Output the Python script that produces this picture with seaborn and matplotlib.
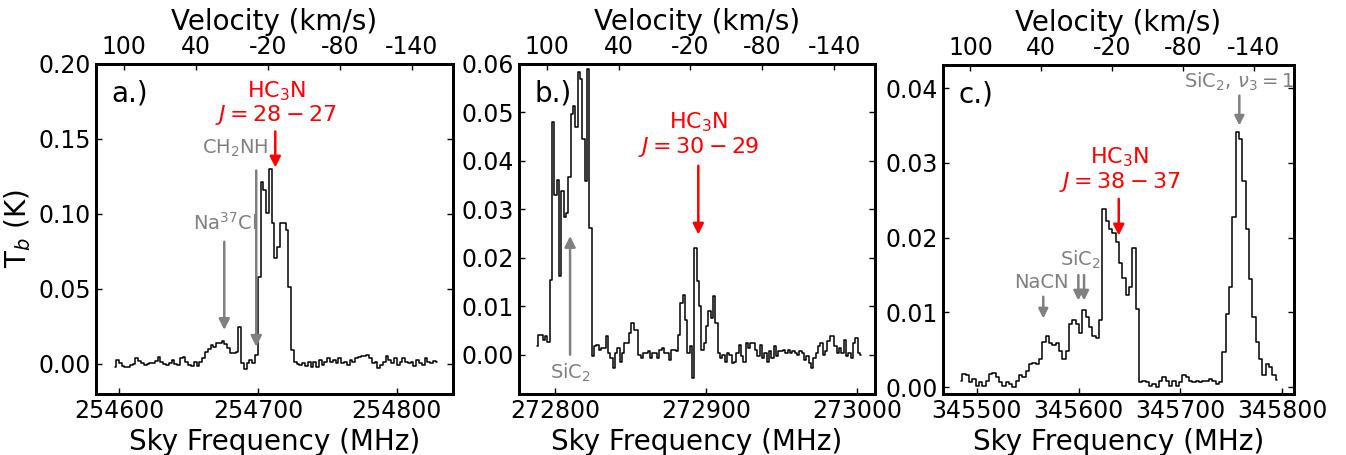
import numpy as np
import matplotlib
matplotlib.use("Agg")
import matplotlib.pyplot as plt
import seaborn as sns
from matplotlib.ticker import FormatStrFormatter

# Spectra (T_b in mK, one value per channel)
# Panel a: HC3N J=28-27, channels start at 254595.9 MHz, 2.0 MHz wide
a_start, a_width = 254595.9, 2.0
a_tb = [-1.8, 2.7, 0.4, -1.3, -2.2, -1.8, -0.7, 0.0, 3.8, 2.0, 0.4, -0.7, 0.0, 0.4, 0.9, 2.0,
        4.9, 1.6, 0.0, -0.7, 0.4, 2.7, 0.0, -0.7, 3.8, 4.9, 1.6, -0.7, -1.3, 1.6, -1.3, 1.6,
        3.8, 8.2, 9.8, 12.7, 11.1, 13.8, 14.2, 15.3, 13.3, 10.4, 7.6, 7.1, 8.2, 24.9, 0.4, -3.6,
        0.4, 2.7, 0.4, 6.0, 58.2, 121.6, 116.0, 100.4, 130.2, 93.8, 70.4, 78.2, 93.8, 93.8, 89.3, 51.6,
        9.3, 1.6, 0.0, -0.7, 0.4, -1.3, 1.6, -1.8, 1.6, -1.8, 2.7, -0.7, 1.6, 3.8, 1.6, 2.7,
        0.4, 3.8, 0.4, 1.6, -0.7, 2.7, 1.6, 3.8, 4.9, 5.3, 5.3, 6.0, 3.8, 0.4, 1.6, -2.9,
        -0.7, 1.6, 5.3, 2.7, 0.4, 3.8, -0.7, 1.6, 3.8, 1.6, 0.4, 1.6, -1.3, 2.7, 0.4, -0.7,
        3.8, 1.6, 0.4, 2.2, 1.6]

# Panel b: HC3N J=30-29, channels start at 272787.2 MHz, 1.545 MHz wide
b_start, b_width = 272787.2, 1.545
b_tb = [1.7, 4.0, 4.0, 3.0, 3.8, 2.6,
        15.5, 48.0, 33.0, 36.0, 16.2, 33.8, 28.4, 29.3, 36.6, 49.7, 51.4, 47.0, 58.3, 56.9, 44.5, 35.9, 59.0, 26.2,
        -0.3, 1.7, 2.1, 1.0, 1.4, 1.4, 3.8, 0.3, -0.7, -2.8, 0.3, 1.4, -1.4, 0.3, 2.4, 2.4,
        4.5, 6.6, 5.2, 5.2, 0.0, -0.7, 0.3, 0.3, 0.7, -0.7, 0.3, 0.3, -0.7, 1.0, 1.4, 0.3,
        0.3, -1.0, 1.0, 1.0, 0.7, 4.1, 10.7, 12.4, 7.2, 0.3, 1.7, -4.8, 22.1, 15.2, 10.0, 1.0,
        2.4, 5.9, 9.0, 7.6, 12.1, 6.6, 0.3, -0.7, 0.0, -1.4, 0.3, 0.0, -1.7, -1.4, 0.3, 2.1,
        -0.3, -1.4, 2.4, 1.4, 2.4, 2.4, 1.0, -0.3, 2.1, -0.7, 0.3, -1.4, 0.7, -0.7, 1.7, -0.3,
        0.7, 0.7, 1.0, 0.3, 1.0, 0.3, 0.7, 0.3, 0.0, 0.7, 0.3, -1.0, -0.3, -1.7, -2.8, -0.7,
        0.3, 1.7, 2.4, 0.0, 0.7, 2.8, 3.9, 3.9, 1.7, 0.3, 1.4, 0.3, 3.1, -0.3, 0.3, -0.7,
        2.4, 3.4, 0.3, 0.0]

# Panel c: HC3N J=38-37, channels start at 345482.3 MHz, 3.279 MHz wide
c_start, c_width = 345482.3, 3.279
c_tb = [0.9, 1.8, 1.6, 0.7, 1.1, 0.2, 0.7, 0.2, 0.9, 1.8, 1.9, 1.4, 0.7, 0.2, 0.7, 0.45,
        0.1, 0.9, 1.6, 1.4, 2.2, 3.1, 3.3, 3.1, 3.8, 6.1, 6.8, 5.9, 5.6, 5.9, 4.9, 3.8,
        4.9, 8.5, 9.0, 8.5, 7.2, 10.3, 9.4, 8.1, 6.8, 6.6, 9.0, 23.9, 22.3, 21.2, 20.6, 19.4,
        16.6, 14.6, 12.3, 13.4, 18.6, 10.5, 0.7, 0.9, 0.7, 0.2, 0.45, 0.05, 0.9, 1.4, 0.9, 0.2,
        0.9, 0.2, 0.7, 1.6, 1.4, 0.9, 0.7, 0.9, 0.7, 0.9, 0.9, 1.1, 0.9, 0.45, 0.7, 4.7,
        9.8, 13.4, 22.8, 34.1, 33.2, 27.6, 21.1, 14.5, 9.4, 6.1, 3.8, 1.6, 3.1, 2.7, 1.6, 1.0]

panel_names = ["a.)", "b.)", "c.)"]
hc3n_labels = [r"$J=28-27$", r"$J=30-29$", r"$J=38-37$"]

sns.set_style("ticks")
plt.rcParams["font.family"] = ["DejaVu Sans"]
plt.rcParams["mathtext.fontset"] = "dejavusans"
plt.rcParams["axes.unicode_minus"] = False
for key in ["text.color", "axes.labelcolor", "xtick.color", "ytick.color", "axes.edgecolor"]:
    plt.rcParams[key] = "black"

fig = plt.figure(figsize=(13.46, 4.55), dpi=100)
boxes = [[0.0713, 0.1341, 0.2652, 0.7253],
         [0.3856, 0.1341, 0.2645, 0.7253],
         [0.7006, 0.1341, 0.2608, 0.7231]]
spectra = [(a_start, a_width, a_tb), (b_start, b_width, b_tb), (c_start, c_width, c_tb)]
xlims = [(254583.5, 254840.3), (272776.2, 273011.9), (345466.6, 345811.8)]
xticks = [[254600, 254700, 254800], [272800, 272900, 273000], [345500, 345600, 345700, 345800]]
ylims = [(-0.02, 0.20), (-0.0081, 0.06), (-0.0009, 0.0431)]
ysteps = [0.05, 0.01, 0.01]

axes = []
for i in range(3):
    ax = fig.add_axes(boxes[i])
    start, width, tb = spectra[i]
    freq = start + width * (np.arange(len(tb)) + 0.5)
    sns.lineplot(x=freq, y=np.array(tb) / 1000.0, ax=ax, color="black", lw=1.1,
                 drawstyle="steps-mid", errorbar=None, sort=False)
    ax.set_xlim(*xlims[i])
    ax.set_ylim(*ylims[i])
    ax.set_xticks(xticks[i])
    ax.set_yticks(np.arange(0, ylims[i][1] + 1e-6, ysteps[i]))
    ax.yaxis.set_major_formatter(FormatStrFormatter("%.2f"))
    ax.tick_params(direction="in", labelsize=17, right=True, length=4, width=1)
    ax.set_xlabel("Sky Frequency (MHz)", fontsize=20)
    for sp in ax.spines.values():
        sp.set_linewidth(2)
    ax.text(0.043, 0.91, panel_names[i], transform=ax.transAxes, fontsize=20,
            ha="left", va="center")
    # velocity axis on top
    top = ax.twiny()
    top.set_xlim(123.2, -174.2)
    top.set_xticks([100, 40, -20, -80, -140])
    top.tick_params(direction="in", labelsize=17, length=4, width=1)
    top.set_xlabel("Velocity (km/s)", fontsize=20)
    for sp in top.spines.values():
        sp.set_linewidth(2)
    axes.append(ax)

axes[0].set_ylabel(r"T$_b$ (K)", fontsize=20)

red = "red"
grey = "gray"


def arrow(ax, x, y_tail, y_tip, color, lw=1.8, scale=16):
    ax.annotate("", xy=(x, y_tip), xytext=(x, y_tail),
                arrowprops=dict(arrowstyle="-|>", color=color, lw=lw,
                                mutation_scale=scale, shrinkA=0, shrinkB=0))


# panel a
ax = axes[0]
ax.text(254713.5, 0.182, r"HC$_3$N", color=red, fontsize=16, ha="center", va="center")
ax.text(254713.0, 0.166, hc3n_labels[0], color=red, fontsize=16, ha="center", va="center")
arrow(ax, 254712.5, 0.155, 0.131, red)
ax.text(254683.5, 0.144, r"CH$_2$NH", color=grey, fontsize=14, ha="center", va="center")
arrow(ax, 254698.8, 0.129, 0.0115, grey)
ax.text(254676.0, 0.094, r"Na$^{37}$Cl", color=grey, fontsize=14, ha="center", va="center")
arrow(ax, 254675.8, 0.0815, 0.0227, grey)

# panel b
ax = axes[1]
ax.text(272894.9, 0.048, r"HC$_3$N", color=red, fontsize=16, ha="center", va="center")
ax.text(272894.9, 0.0429, hc3n_labels[1], color=red, fontsize=16, ha="center", va="center")
arrow(ax, 272894.9, 0.039, 0.0248, red)
arrow(ax, 272810.0, 0.0, 0.0245, grey)
ax.text(272810.0, -0.0037, r"SiC$_2$", color=grey, fontsize=14, ha="center", va="center")

# panel c
ax = axes[2]
ax.text(345640.0, 0.0308, r"HC$_3$N", color=red, fontsize=16, ha="center", va="center")
ax.text(345640.0, 0.0275, hc3n_labels[2], color=red, fontsize=16, ha="center", va="center")
arrow(ax, 345639.4, 0.0252, 0.0203, red)
ax.text(345758.0, 0.0409, r"SiC$_2$, $\nu_3=1$", color=grey, fontsize=14, ha="center", va="center")
arrow(ax, 345758.0, 0.039, 0.035, grey, scale=14)
ax.text(345602.0, 0.017, r"SiC$_2$", color=grey, fontsize=14, ha="center", va="center")
arrow(ax, 345599.7, 0.015, 0.0116, grey, scale=14)
arrow(ax, 345605.3, 0.015, 0.0116, grey, scale=14)
ax.text(345563.0, 0.014, "NaCN", color=grey, fontsize=14, ha="center", va="center")
arrow(ax, 345565.2, 0.0121, 0.0092, grey, scale=14)

fig.savefig("out.png", dpi=100)
